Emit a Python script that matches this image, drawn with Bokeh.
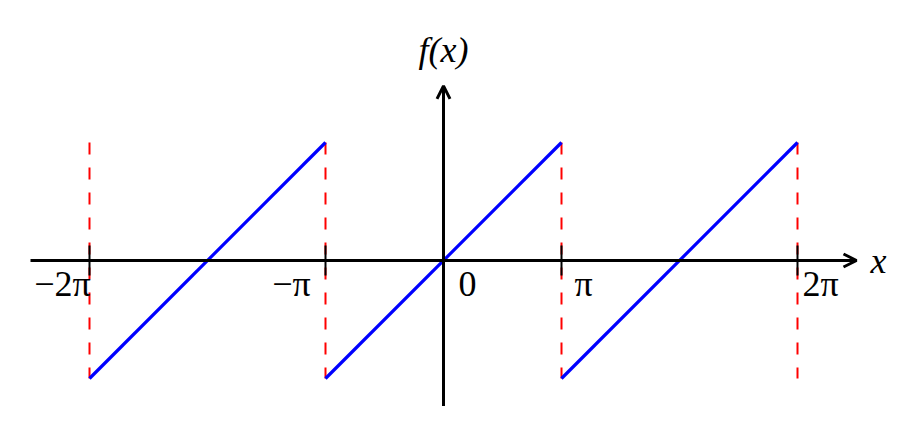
import numpy as np
from bokeh.plotting import figure
from bokeh.models import Arrow, OpenHead, ColumnDataSource
from bokeh.core.properties import value
from bokeh.embed import file_html
from bokeh.resources import INLINE

PI = np.pi
# sawtooth segments (x0, y0) -> (x1, y1), in radians
seg_x0 = [-3 * PI, -PI, PI]
seg_x1 = [-PI, PI, 3 * PI]
seg_y0 = [-PI, -PI, -PI]
seg_y1 = [PI, PI, PI]

# dashed discontinuity lines
disc_x = [-3 * PI, -PI, PI, 3 * PI]
disc_top = [PI, PI, PI, PI]
disc_bot = [-PI, -PI, -PI, -PI]

# ticks and labels
tick_x = [-3 * PI, -PI, 0.0, PI, 3 * PI]
tick_labels = ["\u22122\u03c0", "\u2212\u03c0", "0", "\u03c0", "2\u03c0"]
label_dx = [-27, -34, 24, 22, 23]
has_tick = [True, True, False, True, True]

# axes extents
x_axis = (-3.5 * PI, 3.5 * PI)
y_axis = (-1.25 * PI, 1.48 * PI)

W, H = 906, 406
scale = 118 / PI  # px per unit
ox, oy = 443, 260  # origin in plot px
p = figure(width=W, height=H, output_backend="svg", toolbar_location=None,
           x_range=(-ox / scale, (W - ox) / scale),
           y_range=(-(H - oy) / scale, oy / scale),
           min_border=0, outline_line_color=None)
p.axis.visible = False
p.grid.visible = False
p.background_fill_color = "white"

font = value("Liberation Serif")
fs = "36px"

# axes with arrows
p.add_layout(Arrow(end=OpenHead(size=13, line_width=3, line_color="black"),
                   x_start=x_axis[0], y_start=0, x_end=x_axis[1], y_end=0,
                   line_width=3, line_color="black"))
p.add_layout(Arrow(end=OpenHead(size=13, line_width=3, line_color="black"),
                   x_start=0, y_start=y_axis[0], x_end=0, y_end=y_axis[1],
                   line_width=3, line_color="black"))

# dashed red lines
p.segment(x0=disc_x, y0=disc_top, x1=disc_x, y1=disc_bot, line_color="red",
          line_width=2, line_dash="12 13")

# ticks
th = 15 / scale
tx = [x for x, h in zip(tick_x, has_tick) if h]
p.segment(x0=tx, y0=[th] * len(tx), x1=tx, y1=[-th] * len(tx),
          line_color="black", line_width=2)

# sawtooth
p.segment(x0=seg_x0, y0=seg_y0, x1=seg_x1, y1=seg_y1, line_color="blue",
          line_width=3.2)

# tick labels
src = ColumnDataSource(dict(x=tick_x, y=[0.0] * len(tick_x), t=tick_labels, dx=label_dx))
p.text(x="x", y="y", text="t", x_offset="dx", y_offset=23, source=src,
       text_font=font, text_font_size=fs, text_align="center",
       text_baseline="alphabetic", text_color="black")

# axis labels
p.text(x=[x_axis[1]], y=[0.0], text=["x"], x_offset=22, y_offset=0,
       text_font=font, text_font_style="italic", text_font_size=fs,
       text_align="center", text_baseline="middle", text_color="black")
p.text(x=[0.0], y=[y_axis[1]], text=["f(x)"], x_offset=0, y_offset=-36,
       text_font=font, text_font_style="italic", text_font_size=fs,
       text_align="center", text_baseline="alphabetic", text_color="black")

open("out.html", "w").write(file_html(p, INLINE))
